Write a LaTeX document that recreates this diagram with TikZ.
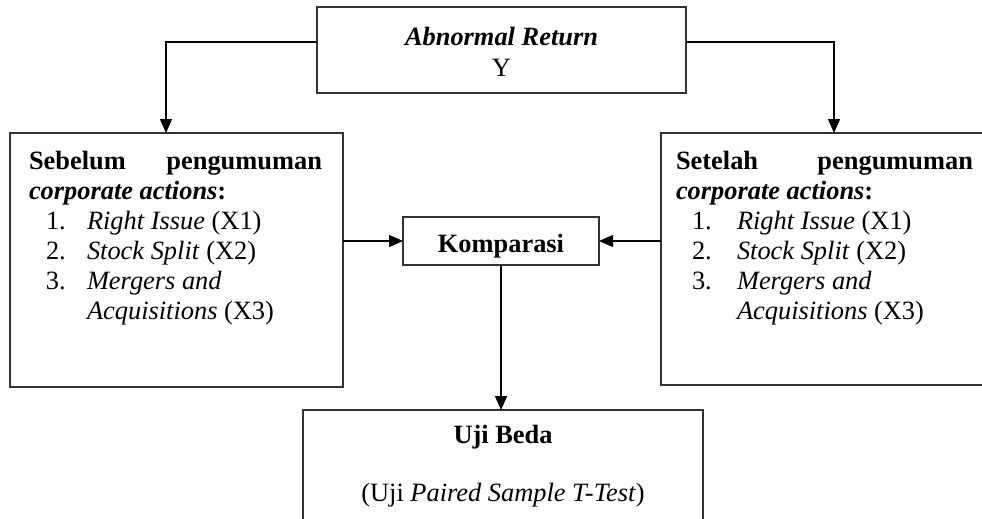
\documentclass[tikz,border=0pt]{standalone}
\usepackage{fontspec}
\setmainfont{Liberation Serif}
\usetikzlibrary{arrows.meta,calc}
\tikzset{
  boxnode/.style={draw=black!80, line width=1.2pt, inner sep=0pt, outer sep=0pt, anchor=north west},
  arr/.style={line width=1.4pt, -{Triangle[length=14pt,width=12pt]}},
}
\begin{document}
\begin{tikzpicture}[x=1pt,y=-1pt,font=\fontsize{26.4}{30}\selectfont]
\useasboundingbox (0,0) rectangle (982,519);
\clip (0,0) rectangle (982,519);
\fill[white] (0,0) rectangle (982,519);

\node[boxnode] (abn) at (317,7) {\parbox[t][86pt][t]{369pt}{\centering\rule{0pt}{39pt}\textbf{\textit{Abnormal Return}}\\ Y}};

\node[boxnode] (left) at (10,133) {\parbox[t][254pt][t]{333pt}{\leftskip=19pt\rightskip=21pt
\rule{0pt}{36pt}\textbf{Sebelum\hfill pengumuman}\\
\textbf{\textit{corporate actions}:}\\
\hspace*{17pt}\makebox[41pt][l]{1.}\textit{Right Issue} (X1)\\
\hspace*{17pt}\makebox[41pt][l]{2.}\textit{Stock Split} (X2)\\
\hspace*{17pt}\makebox[41pt][l]{3.}\textit{Mergers and}\\
\hspace*{58pt}\textit{Acquisitions} (X3)}};

\node[boxnode] (right) at (661,133) {\parbox[t][252pt][t]{330pt}{\leftskip=15pt\rightskip=18pt
\rule{0pt}{36pt}\textbf{Setelah\hfill pengumuman}\\
\textbf{\textit{corporate actions}:}\\
\hspace*{16pt}\makebox[45pt][l]{1.}\textit{Right Issue} (X1)\\
\hspace*{16pt}\makebox[45pt][l]{2.}\textit{Stock Split} (X2)\\
\hspace*{16pt}\makebox[45pt][l]{3.}\textit{Mergers and}\\
\hspace*{61pt}\textit{Acquisitions} (X3)}};

\node[boxnode] (kom) at (403,217) {\parbox[t][48pt][t]{196pt}{\centering\rule{0pt}{35pt}\textbf{Komparasi}}};

\node[boxnode] (uji) at (303,410) {\parbox[t][125pt][t]{400pt}{\centering\rule{0pt}{33pt}\textbf{Uji Beda}\\[28pt]
(Uji \textit{Paired Sample T-Test})}};

\coordinate (lt) at (166,133);
\coordinate (rt) at (834,133);
\draw[arr] ([yshift=8pt]abn.west) -| (lt);
\draw[arr] ([yshift=8pt]abn.east) -| (rt);
\draw[arr] (left.east |- kom.west) -- (kom.west);
\draw[arr] (right.west |- kom.east) -- (kom.east);
\draw[arr] (kom.south) -- (kom.south |- uji.north);
\end{tikzpicture}
\end{document}
